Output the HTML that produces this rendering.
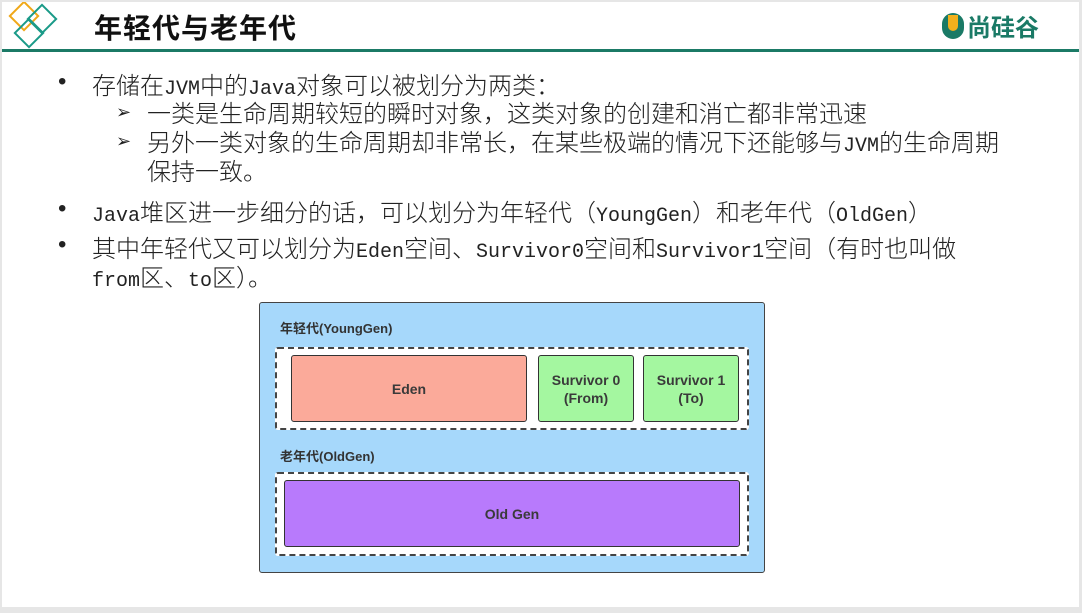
<!DOCTYPE html>
<html><head><meta charset="utf-8"><style>
html,body{margin:0;padding:0}
body{width:1082px;height:613px;background:#e6e6e6;position:relative;overflow:hidden;font-family:"Noto Sans CJK SC","WenQuanYi Zen Hei",sans-serif;}
.page{position:absolute;left:2px;top:2px;width:1077px;height:605px;background:#fff;}
.line{position:absolute;left:0;top:47px;width:1077px;height:3px;background:#1b7a66;}
.title{position:absolute;left:92px;top:5px;font-size:28px;font-weight:bold;color:#111;letter-spacing:1px}
.t{position:absolute;font-size:24px;color:#222;white-space:nowrap;line-height:29px;font-weight:300}
.m{font-family:"Liberation Mono",monospace;font-size:20px;font-weight:normal}
.b{position:absolute;font-size:24px;color:#222;font-family:"Liberation Sans",sans-serif}
.a{position:absolute;font-size:18px;color:#222}
.box{position:absolute;box-sizing:border-box}
.lbl{position:absolute;font-family:"Liberation Sans","Noto Sans CJK SC",sans-serif;font-weight:bold;font-size:13px;color:#333}
.c{display:flex;align-items:center;justify-content:center;text-align:center;font-family:"Liberation Sans",sans-serif;font-weight:bold;font-size:14px;color:#3a3a3a;line-height:18px;border:1.5px solid #333;border-radius:3px}
</style></head><body>
<div class="page">
<svg style="position:absolute;left:0;top:0" width="70" height="48">
<rect x="12" y="4" width="20" height="20" transform="rotate(45 22 14)" fill="none" stroke="#f0a818" stroke-width="2"/>
<rect x="30" y="7" width="20" height="20" transform="rotate(45 40 17)" fill="none" stroke="#1a9a88" stroke-width="2"/>
<rect x="17" y="21" width="20" height="20" transform="rotate(45 27 31)" fill="none" stroke="#1a9a88" stroke-width="2"/>
</svg>
<div class="title">年轻代与老年代</div>
<div style="position:absolute;left:940px;top:11px;width:22px;height:26px;border-radius:11px;background:#1a7a66"></div>
<div style="position:absolute;left:946px;top:13px;width:10px;height:16px;border-radius:0 0 5px 5px;background:#f2b01c"></div>
<div style="position:absolute;left:965px;top:6px;font-size:24px;color:#1a7a66;font-weight:bold">尚硅谷</div>
<div class="line"></div>

<div class="b" style="left:56px;top:66px">•</div>
<div class="t" style="left:90px;top:67px">存储在<span class="m">JVM</span>中的<span class="m">Java</span>对象可以被划分为两类：</div>
<div class="a" style="left:114px;top:96px">➢</div>
<div class="t" style="left:145px;top:95px">一类是生命周期较短的瞬时对象，这类对象的创建和消亡都非常迅速</div>
<div class="a" style="left:114px;top:125px">➢</div>
<div class="t" style="left:145px;top:124px">另外一类对象的生命周期却非常长，在某些极端的情况下还能够与<span class="m">JVM</span>的生命周期</div>
<div class="t" style="left:145px;top:153px">保持一致。</div>
<div class="b" style="left:56px;top:193px">•</div>
<div class="t" style="left:90px;top:194px"><span class="m">Java</span>堆区进一步细分的话，可以划分为年轻代（<span class="m">YoungGen</span>）和老年代（<span class="m">OldGen</span>）</div>
<div class="b" style="left:56px;top:229px">•</div>
<div class="t" style="left:90px;top:230px">其中年轻代又可以划分为<span class="m">Eden</span>空间、<span class="m">Survivor0</span>空间和<span class="m">Survivor1</span>空间（有时也叫做</div>
<div class="t" style="left:90px;top:259px"><span class="m">from</span>区、<span class="m">to</span>区）。</div>

<div class="box" style="left:257px;top:300px;width:506px;height:271px;background:#a6d8fb;border:1.5px solid #444;border-radius:3px"></div>
<div class="lbl" style="left:278px;top:316px">年轻代(YoungGen)</div>
<div class="box" style="left:273px;top:345px;width:474px;height:83px;background:#fff;border:2px dashed #444;border-radius:3px"></div>
<div class="box c" style="left:289px;top:353px;width:236px;height:67px;background:#fbaa9a">Eden</div>
<div class="box c" style="left:536px;top:353px;width:96px;height:67px;background:#a4f7a0">Survivor 0<br>(From)</div>
<div class="box c" style="left:641px;top:353px;width:96px;height:67px;background:#a4f7a0">Survivor 1<br>(To)</div>
<div class="lbl" style="left:278px;top:444px">老年代(OldGen)</div>
<div class="box" style="left:273px;top:470px;width:474px;height:84px;background:#fff;border:2px dashed #444;border-radius:3px"></div>
<div class="box c" style="left:282px;top:478px;width:456px;height:67px;background:#b87afc">Old Gen</div>
</div>
</body></html>
